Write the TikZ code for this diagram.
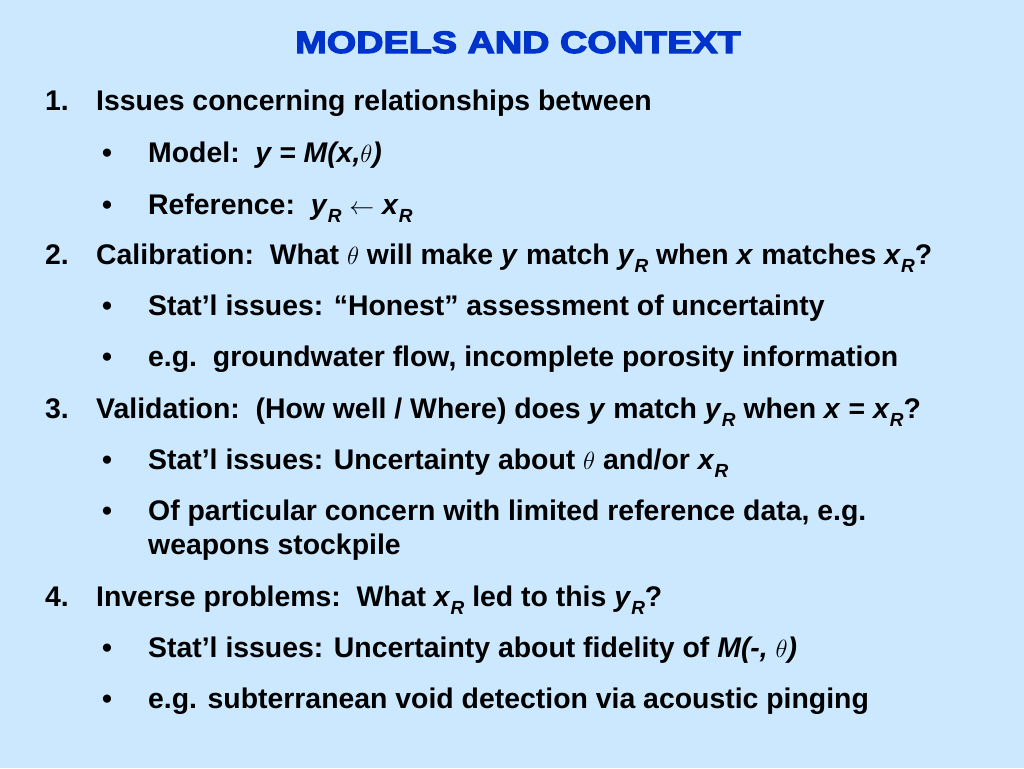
\documentclass[tikz,border=0pt]{standalone}
\usepackage{fontspec}
\setmainfont{Liberation Sans}
\newfontfamily\titlefont{Liberation Sans Bold}[FakeBold=3.5]
\definecolor{fond}{HTML}{CCE8FF}
\definecolor{titre}{HTML}{0033CC}
\newcommand{\ind}[1]{\raisebox{-0.3em}{\fontsize{19}{22}\selectfont\itshape #1}}
\newcommand{\thet}{$\theta$}
\begin{document}
\begin{tikzpicture}[x=1pt,y=-1pt,
  every node/.style={inner sep=0pt,anchor=base west,font=\fontsize{28.4}{32}\selectfont\bfseries}]
  % Fond
  \fill[fond] (0,0) rectangle (1024,768);
  \useasboundingbox (0,0) rectangle (1024,768);

  % Titre
  \node[font=\fontsize{31}{36}\selectfont\titlefont, text=titre, anchor=base, xscale=1.22] (titre) at (518,53) {MODELS AND CONTEXT};

  % Point 1
  \node (n1) at (45,110) {1.};
  \node (t1) at (96,110) {Issues concerning relationships between};
  \node (b11) at (102,162) {•};
  \node (t11) at (148,162) {Model:\ \ \textit{y = M(x,}\thet\textit{)}};
  \node (b12) at (102,214) {•};
  \node (t12) at (148,214) {Reference:\ \ \textit{y}\ind{R} $\leftarrow$ \textit{x}\ind{R}};

  % Point 2
  \node (n2) at (45,264) {2.};
  \node (t2) at (96,264) {Calibration:\ \ What \thet\ will make \textit{y} match \textit{y}\ind{R} when \textit{x} matches \textit{x}\ind{R}?};
  \node (b21) at (102,315) {•};
  \node (t21) at (148,315) {Stat’l issues: “Honest” assessment of uncertainty};
  \node (b22) at (102,366) {•};
  \node (t22) at (148,366) {e.g.\ \ groundwater flow, incomplete porosity information};

  % Point 3
  \node (n3) at (45,418) {3.};
  \node (t3) at (96,418) {Validation:\ \ (How well / Where) does \textit{y}\ match \textit{y}\ind{R} when \textit{x} = \textit{x}\ind{R}?};
  \node (b31) at (102,469) {•};
  \node (t31) at (148,469) {Stat’l issues: Uncertainty about \thet\ and/or \textit{x}\ind{R}};
  \node (b32) at (102,520) {•};
  \node (t32) at (148,520) {Of particular concern with limited reference data, e.g.};
  \node (t32b) at (148,554) {weapons stockpile};

  % Point 4
  \node (n4) at (45,606) {4.};
  \node (t4) at (96,606) {Inverse problems:\ \ What \textit{x}\ind{R} led to this \textit{y}\ind{R}?};
  \node (b41) at (102,657) {•};
  \node (t41) at (148,657) {Stat’l issues: Uncertainty about fidelity of \textit{M(-, }\thet\textit{)}};
  \node (b42) at (102,708) {•};
  \node (t42) at (148,708) {e.g. subterranean void detection via acoustic pinging};
\end{tikzpicture}
\end{document}
